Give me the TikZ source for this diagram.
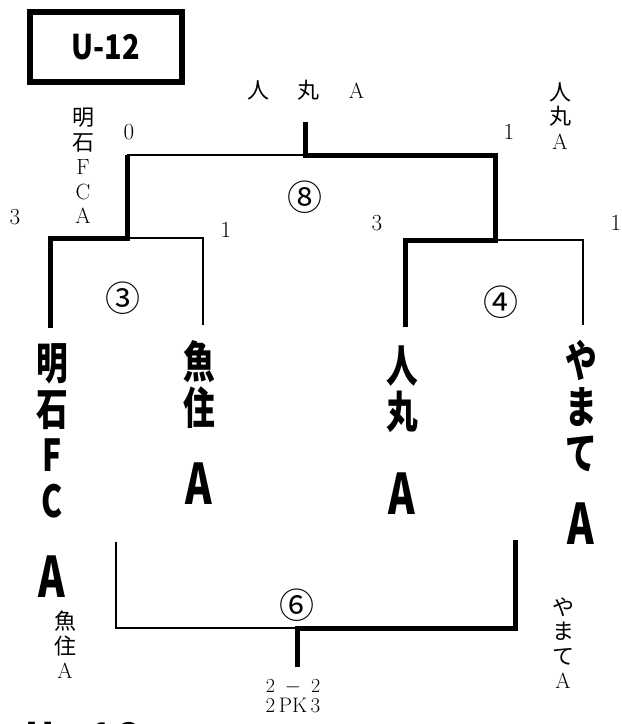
\documentclass[tikz,border=0pt]{standalone}
\usepackage{fontspec}
\usepackage{graphicx}
\usepackage{tikz}
\usetikzlibrary{positioning}
\newfontfamily\jpfont{Noto Sans CJK JP}
\newcommand{\jtext}[1]{{\jpfont #1}}
\newcommand{\tall}[1]{\scalebox{0.72}[1]{#1}}

\begin{document}
\begin{tikzpicture}[
    x=1pt, y=-1pt,
    loseline/.style={line width=1.3pt},
    winline/.style={line width=5pt},
    titlebox/.style={draw, line width=6pt, minimum width=152pt, minimum height=70pt, inner sep=0pt, font=\jpfont\bfseries\fontsize{34}{34}\selectfont},
    team/.style={anchor=north, inner sep=0pt, align=center, font=\jpfont\bfseries\fontsize{44}{46}\selectfont},
    teamA/.style={inner sep=0pt, font=\jpfont\bfseries\fontsize{56}{56}\selectfont},
    smalltext/.style={inner sep=0pt, align=center, font=\fontsize{22}{24.5}\selectfont},
    score/.style={inner sep=0pt, font=\fontsize{23}{23}\selectfont},
    matchno/.style={inner sep=0pt, font=\jpfont\fontsize{35}{35}\selectfont}
]
    \path[use as bounding box, fill=white] (0,0) rectangle (622,724);

    % Title
    \node[titlebox] (title) at (106,47) {\scalebox{0.85}[1]{U-12}};
    \node[titlebox, draw=none, anchor=base west, minimum width=0pt, minimum height=0pt, font=\jpfont\bfseries\fontsize{38}{38}\selectfont] (nexttitle) at (23,750) {U\hspace{10pt}-\hspace{10pt}1\hspace{6pt}2};

    % Teams
    \node[team] (akashi) at (52,343) {\tall{明}\\\tall{石}\\\tall{F}\\\tall{C}};
    \node[teamA] (akashiA) at (52,577) {\tall{A}};
    \node[team] (uozumi) at (199,340) {\tall{魚}\\\tall{住}};
    \node[teamA] (uozumiA) at (199,484) {\tall{A}};
    \node[team] (hitomaru) at (402,346) {\tall{人}\\\tall{丸}};
    \node[teamA] (hitomaruA) at (402,494) {\tall{A}};
    \node[team] (yamate) at (581,340) {\tall{や}\\\tall{ま}\\\tall{て}};
    \node[teamA] (yamateA) at (581,524) {\tall{A}};

    % Bracket points
    \coordinate (s8) at (305,122);
    \coordinate (m8) at (305,155);
    \coordinate (l8) at (127,155);
    \coordinate (r8) at (495,155);
    \coordinate (m3) at (127,238);
    \coordinate (l3) at (50,238);
    \coordinate (r3) at (203,238);
    \coordinate (l3b) at (50,328);
    \coordinate (r3b) at (203,325);
    \coordinate (m4) at (495,240);
    \coordinate (l4) at (405,240);
    \coordinate (r4) at (583,240);
    \coordinate (l4b) at (405,327);
    \coordinate (r4b) at (583,325);
    \coordinate (l6t) at (116,542);
    \coordinate (l6) at (116,628);
    \coordinate (m6) at (297,628);
    \coordinate (r6) at (515,628);
    \coordinate (r6t) at (515,540);
    \coordinate (s6) at (297,667);

    % Brackets
    \draw[loseline] (l8) -- (m8);
    \draw[winline] (s8) -- (m8) -- (r8) -- (m4) -- (l4) -- (l4b);
    \draw[winline] (l8) -- (m3) -- (l3) -- (l3b);
    \draw[loseline] (m3) -- (r3) -- (r3b);
    \draw[loseline] (m4) -- (r4) -- (r4b);
    \draw[loseline] (l6t) -- (l6) -- (m6);
    \draw[winline] (s6) -- (m6) -- (r6) -- (r6t);

    % Match numbers
    \node[matchno] (n8) at (305,197) {⑧};
    \node[matchno] (n3) at (123,298) {③};
    \node[matchno] (n4) at (501,302) {④};
    \node[matchno] (n6) at (297,605) {⑥};

    % Scores
    \node[score] (sc8l) at (129,132) {0};
    \node[score] (sc8r) at (509,132) {1};
    \node[score] (sc3l) at (15,217) {3};
    \node[score] (sc3r) at (226,230) {1};
    \node[score] (sc4l) at (377,223) {3};
    \node[score] (sc4r) at (616,223) {1};
    \node[score, font=\fontsize{20}{20}\selectfont] (sc6) at (293,687) {2\enspace$-$\enspace2};
    \node[score, font=\fontsize{21}{21}\selectfont] (pk6) at (293,705) {2\,PK\,3};

    % Winners
    \node[smalltext] (win8) at (306,90) {\jtext{人}\hspace{28pt}\jtext{丸}\hspace{29pt}A};
    \node[smalltext] (win8l) at (83,166) {\jtext{明}\\\jtext{石}\\F\\C\\A};
    \node[smalltext] (win8r) at (560,116) {\jtext{人}\\\jtext{丸}\\A};
    \node[smalltext] (win6l) at (65,645) {\jtext{魚}\\\jtext{住}\\A};
    \node[smalltext] (win6r) at (563,643) {\jtext{や}\\\jtext{ま}\\\jtext{て}\\A};
\end{tikzpicture}
\end{document}
